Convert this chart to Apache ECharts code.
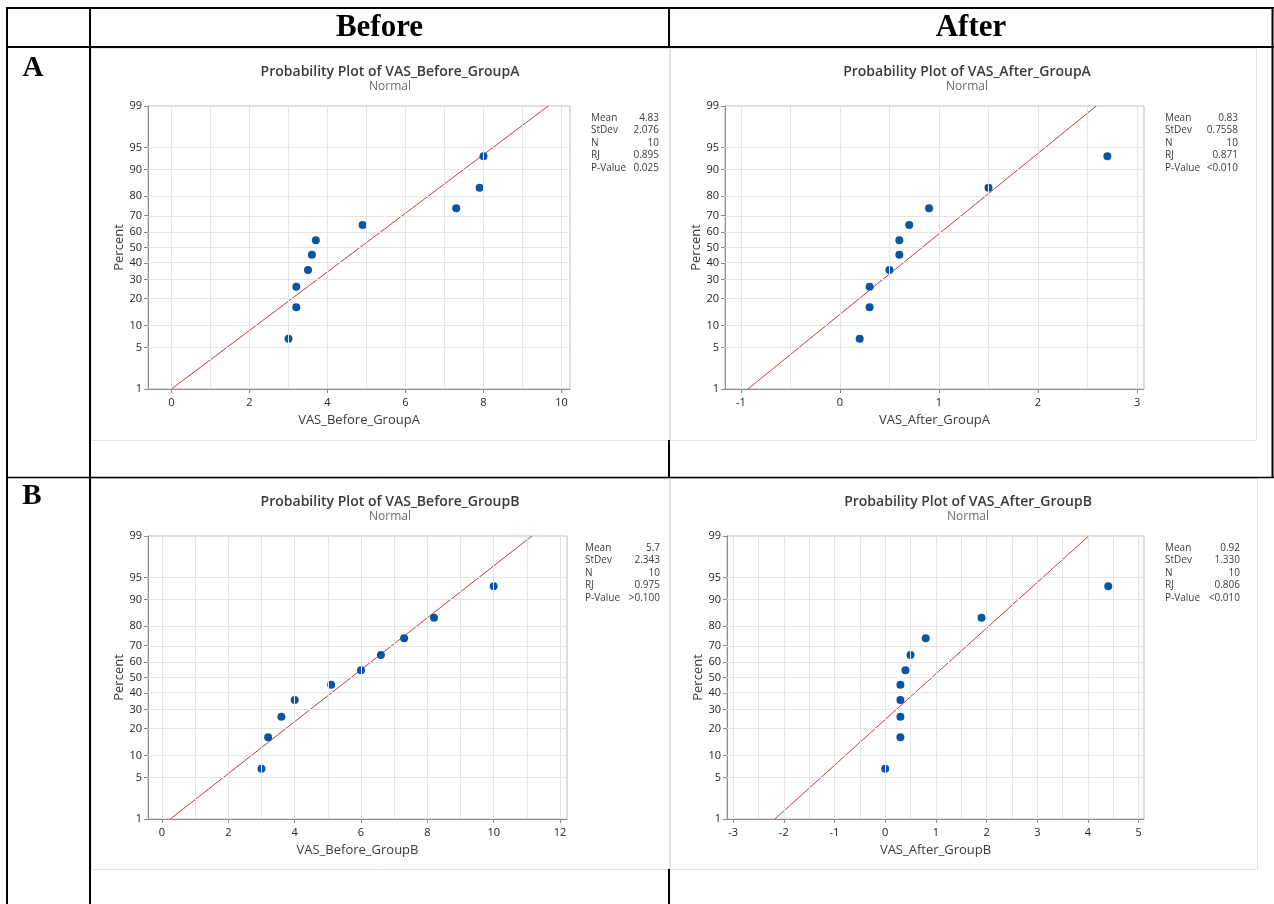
<!DOCTYPE html>
<html><head><meta charset="utf-8">
<script src="https://cdn.jsdelivr.net/npm/echarts@6/dist/echarts.min.js"></script>
<style>html,body{margin:0;padding:0;background:#fff;} #c{width:1274px;height:904px;}</style>
</head><body><div id="c"></div><script>
// ---- data ----
const percentRanks = [6.7, 16.3, 26.0, 35.6, 45.2, 54.8, 64.4, 74.0, 83.7, 93.3];
const vasBeforeA = [3.0, 3.2, 3.2, 3.5, 3.6, 3.7, 4.9, 7.3, 7.9, 8.0];
const vasAfterA  = [0.2, 0.3, 0.3, 0.5, 0.6, 0.6, 0.7, 0.9, 1.5, 2.7];
const vasBeforeB = [3.0, 3.2, 3.6, 4.0, 5.1, 6.0, 6.6, 7.3, 8.2, 10.0];
const vasAfterB  = [0.0, 0.3, 0.3, 0.3, 0.3, 0.4, 0.5, 0.8, 1.9, 4.4];
const percentTicks = [1, 5, 10, 20, 30, 40, 50, 60, 70, 80, 90, 95, 99];
const statNames = ['Mean', 'StDev', 'N', 'RJ', 'P-Value'];
const statsBeforeA = ['4.83', '2.076', '10', '0.895', '0.025'];
const statsAfterA  = ['0.83', '0.7558', '10', '0.871', '<0.010'];
const statsBeforeB = ['5.7', '2.343', '10', '0.975', '>0.100'];
const statsAfterB  = ['0.92', '1.330', '10', '0.806', '<0.010'];
const xTicksBeforeA = [0, 2, 4, 6, 8, 10];
const xGridBeforeA  = [0, 1, 2, 3, 4, 5, 6, 7, 8, 9, 10];
const xTicksAfterA  = [-1, 0, 1, 2, 3];
const xGridAfterA   = [-1, -0.5, 0, 0.5, 1, 1.5, 2, 2.5, 3];
const xTicksBeforeB = [0, 2, 4, 6, 8, 10, 12];
const xGridBeforeB  = [0, 1, 2, 3, 4, 5, 6, 7, 8, 9, 10, 11, 12];
const xTicksAfterB  = [-3, -2, -1, 0, 1, 2, 3, 4, 5];
const xGridAfterB   = [-3, -2.5, -2, -1.5, -1, -0.5, 0, 0.5, 1, 1.5, 2, 2.5, 3, 3.5, 4, 4.5, 5];
const columnHeaders = ['Before', 'After'];
const rowHeaders = ['A', 'B'];

// inverse normal CDF (probability-scale transform)
function probit(p) {
  const a = [-3.969683028665376e+01, 2.209460984245205e+02, -2.759285104469687e+02, 1.383577518672690e+02, -3.066479806614716e+01, 2.506628277459239e+00];
  const b = [-5.447609879822406e+01, 1.615858368580409e+02, -1.556989798598866e+02, 6.680131188771972e+01, -1.328068155288572e+01];
  const c = [-7.784894002430293e-03, -3.223964580411365e-01, -2.400758277161838e+00, -2.549671669539877e+00, 4.374664141464968e+00, 2.938163982698783e+00];
  const d = [7.784695709041462e-03, 3.224671290700398e-01, 2.445134137142996e+00, 3.754408661907416e+00];
  const pl = 0.02425, ph = 1 - pl;
  let q, r;
  if (p < pl) { q = Math.sqrt(-2 * Math.log(p)); return (((((c[0]*q+c[1])*q+c[2])*q+c[3])*q+c[4])*q+c[5]) / ((((d[0]*q+d[1])*q+d[2])*q+d[3])*q+1); }
  if (p <= ph) { q = p - 0.5; r = q*q; return (((((a[0]*r+a[1])*r+a[2])*r+a[3])*r+a[4])*r+a[5])*q / (((((b[0]*r+b[1])*r+b[2])*r+b[3])*r+b[4])*r+1); }
  q = Math.sqrt(-2 * Math.log(1 - p)); return -(((((c[0]*q+c[1])*q+c[2])*q+c[3])*q+c[4])*q+c[5]) / ((((d[0]*q+d[1])*q+d[2])*q+d[3])*q+1);
}
const zOf = pct => probit(pct / 100);
const zLo = zOf(percentTicks[0]), zHi = zOf(percentTicks[percentTicks.length - 1]);

// ---- layout ----
const FONT = 'Open Sans';
const panels = [
  { name: 'VAS_Before_GroupA', vals: vasBeforeA, stats: statsBeforeA, xTicks: xTicksBeforeA, xGrid: xGridBeforeA, xMin: -0.603, xMax: 10.218, box: [148, 106, 422, 283], statX: [591, 659], titleX: 385, titleY: 60 },
  { name: 'VAS_After_GroupA',  vals: vasAfterA,  stats: statsAfterA,  xTicks: xTicksAfterA,  xGrid: xGridAfterA,  xMin: -1.16, xMax: 3.07, box: [725, 106, 419, 283], statX: [1165, 1238], titleX: 962, titleY: 60 },
  { name: 'VAS_Before_GroupB', vals: vasBeforeB, stats: statsBeforeB, xTicks: xTicksBeforeB, xGrid: xGridBeforeB, xMin: -0.422, xMax: 12.21, box: [148, 536, 419, 283], statX: [585, 660], titleX: 385, titleY: 490 },
  { name: 'VAS_After_GroupB',  vals: vasAfterB,  stats: statsAfterB,  xTicks: xTicksAfterB,  xGrid: xGridAfterB,  xMin: -3.12, xMax: 5.105, box: [727, 536, 417, 283], statX: [1165, 1240], titleX: 963, titleY: 490 }
];

const grids = [], xAxes = [], yAxes = [], series = [], titles = [], graphics = [];

panels.forEach((p, i) => {
  const [l, t, w, h] = p.box;
  grids.push({ left: l, top: t, width: w, height: h, show: true, borderColor: '#bdbdbd', borderWidth: 1, backgroundColor: 'transparent' });
  xAxes.push({
    type: 'value', gridIndex: i, min: p.xMin, max: p.xMax,
    name: p.name, nameLocation: 'middle', nameGap: 25,
    nameTextStyle: { fontFamily: FONT, fontSize: 13, color: '#3a3a3a' },
    axisLine: { show: true, onZero: false, lineStyle: { color: '#8c8c8c', width: 1 } },
    axisTick: { show: true, customValues: p.xTicks, length: 4, lineStyle: { color: '#8c8c8c' } },
    axisLabel: { customValues: p.xTicks, fontFamily: FONT, fontSize: 11, color: '#222', margin: 8, formatter: v => String(v) },
    splitLine: { show: false }
  });
  const yVals = percentTicks.map(zOf);
  yAxes.push({
    type: 'value', gridIndex: i, min: zLo, max: zHi,
    name: 'Percent', nameLocation: 'middle', nameGap: 22, nameRotate: 90,
    nameTextStyle: { fontFamily: FONT, fontSize: 13, color: '#3a3a3a' },
    axisLine: { show: true, onZero: false, lineStyle: { color: '#8c8c8c', width: 1 } },
    axisTick: { show: true, customValues: yVals, length: 4, lineStyle: { color: '#8c8c8c' } },
    axisLabel: {
      customValues: yVals, fontFamily: FONT, fontSize: 11, color: '#222', margin: 6,
      formatter: v => { let best = percentTicks[0], bd = 1e9; percentTicks.forEach(pt => { const d = Math.abs(zOf(pt) - v); if (d < bd) { bd = d; best = pt; } }); return String(best); }
    },
    splitLine: { show: false }
  });
  // gridlines
  series.push({
    type: 'line', xAxisIndex: i, yAxisIndex: i, data: [], z: 1, silent: true,
    markLine: {
      silent: true, symbol: 'none', animation: false, label: { show: false },
      lineStyle: { color: '#e4e4e4', width: 1, type: 'solid' },
      emphasis: { disabled: true },
      data: p.xGrid.map(v => ({ xAxis: v })).concat(yVals.slice(1, -1).map(v => ({ yAxis: v })))
    }
  });
  // fitted normal line from the listed mean and stdev
  const mean = parseFloat(p.stats[0]), sd = parseFloat(p.stats[1]);
  series.push({
    type: 'line', xAxisIndex: i, yAxisIndex: i, z: 2, symbol: 'none', silent: true, animation: false,
    lineStyle: { color: '#b8413c', width: 1 },
    data: [[mean + sd * zLo, zLo], [mean + sd * zHi, zHi]]
  });
  // points
  series.push({
    type: 'scatter', xAxisIndex: i, yAxisIndex: i, z: 3, symbolSize: 8, animation: false,
    itemStyle: { color: '#0a55a3', opacity: 1 },
    data: p.vals.map((v, k) => [v, zOf(percentRanks[k])])
  });
  titles.push({ text: 'Probability Plot of ' + p.name, subtext: 'Normal', left: p.titleX, top: p.titleY, textAlign: 'center', itemGap: 2,
    textStyle: { fontFamily: FONT, fontSize: 14, fontWeight: 600, color: '#3a3a3a' },
    subtextStyle: { fontFamily: FONT, fontSize: 12, color: '#6a6a6a' } });
  statNames.forEach((s, k) => {
    const yy = t + 7 + k * 12.5;
    graphics.push({ type: 'text', left: p.statX[0], top: yy, style: { text: s, font: '10px "' + FONT + '"', fill: '#3c3c3c' } });
    graphics.push({ type: 'text', right: 1274 - p.statX[1], top: yy, style: { text: p.stats[k], font: '10px "' + FONT + '"', fill: '#3c3c3c', align: 'right' } });
  });
});

// chart image frames (light gray)
[[91, 48, 578, 392], [670, 48, 586, 392], [91, 478, 578, 391], [670, 478, 587, 391]].forEach(r => {
  graphics.push({ type: 'rect', shape: { x: r[0] + 0.5, y: r[1] + 0.5, width: r[2], height: r[3] }, style: { fill: 'none', stroke: '#e2e2e2', lineWidth: 1 }, z: 0 });
});
// table lines (black)
const L = (x1, y1, x2, y2, w) => graphics.push({ type: 'line', shape: { x1, y1, x2, y2 }, style: { stroke: '#000', lineWidth: w || 2 }, z: 10 });
L(6, 8, 1274, 8, 2);
L(6, 47, 1274, 47, 2);
L(7, 7, 7, 904, 2);
L(90, 7, 90, 904, 2);
L(669, 7, 669, 47, 2);
L(669, 440, 669, 478, 2);
L(669, 869, 669, 904, 2);
L(1272.5, 7, 1272.5, 478, 2);
L(6, 477.5, 1274, 477.5, 1.5);
// headers
const hdr = (txt, x, y, size) => graphics.push({ type: 'text', x: x, y: y, style: { text: txt, font: 'bold ' + size + 'px "Liberation Serif"', fill: '#000', align: 'center', verticalAlign: 'middle' }, z: 10 });
hdr(columnHeaders[0], 379.5, 28, 31);
hdr(columnHeaders[1], 971, 28, 31);
hdr(rowHeaders[0], 33, 69, 29);
hdr(rowHeaders[1], 32, 497, 29);

const chart = echarts.init(document.getElementById('c'), null, { renderer: 'canvas' });
chart.setOption({
  animation: false,
  backgroundColor: '#fff',
  title: titles,
  grid: grids, xAxis: xAxes, yAxis: yAxes, series: series,
  graphic: graphics
});
</script></body></html>
